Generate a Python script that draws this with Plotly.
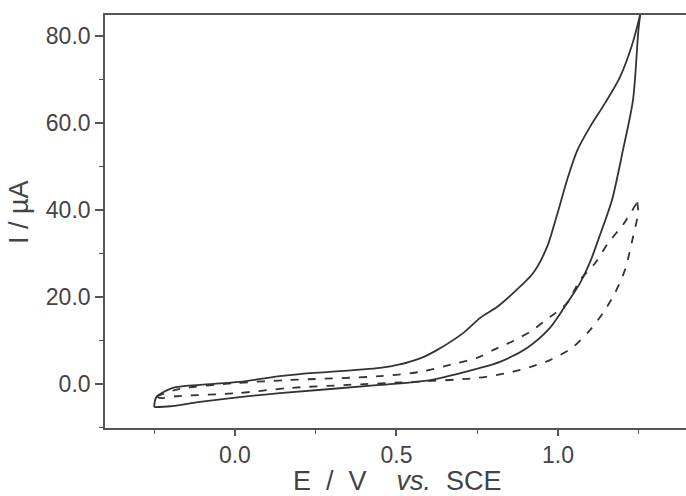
import plotly.graph_objects as go

# Solid CV: outer (upper) branch, -0.25 V -> 1.25 V
e_solid_up = [-0.250, -0.243, -0.192, -0.108, 0.015, 0.139, 0.201, 0.449, 0.510, 0.573, 0.625,
              0.706, 0.759, 0.811, 0.861, 0.923, 0.966, 0.997, 1.028, 1.059, 1.099,
              1.146, 1.192, 1.229, 1.254]
i_solid_up = [-5.3, -3.0, -0.9, -0.2, 0.5, 1.8, 2.3, 3.7, 4.5, 5.9, 7.8,
              11.7, 15.2, 17.7, 20.9, 25.5, 31.5, 38.9, 46.9, 53.6, 59.1,
              64.6, 70.6, 77.9, 84.8]
# Solid CV: inner (lower) branch, 1.25 V -> -0.25 V
e_solid_dn = [1.254, 1.248, 1.232, 1.201, 1.167, 1.130, 1.099, 1.068, 1.028, 0.975,
              0.904, 0.820, 0.759, 0.604, 0.449, 0.139, 0.015, -0.108, -0.201, -0.250]
i_solid_dn = [84.8, 80.7, 65.3, 53.8, 42.3, 34.3, 28.0, 23.2, 18.6, 12.9,
              8.3, 5.1, 3.7, 0.9, -0.2, -2.1, -3.0, -4.1, -5.1, -5.3]

# Dashed CV: upper branch, -0.25 V -> 1.25 V
e_dash_up = [-0.243, -0.170, 0.000, 0.161, 0.449, 0.573, 0.687, 0.749, 0.799, 0.861,
             0.913, 0.975, 1.028, 1.068, 1.115, 1.155, 1.201, 1.245]
i_dash_up = [-2.8, -1.1, 0.2, 0.9, 1.8, 2.8, 4.8, 6.0, 7.8, 9.9,
             12.0, 15.4, 18.6, 23.9, 27.8, 32.4, 36.6, 41.8]
# Dashed CV: lower branch, 1.25 V -> -0.25 V
e_dash_dn = [1.245, 1.248, 1.232, 1.207, 1.176, 1.139, 1.099, 1.043, 0.975, 0.913,
             0.858, 0.749, 0.551, 0.347, 0.170, 0.006, -0.180, -0.232, -0.243]
i_dash_dn = [41.8, 39.5, 33.8, 26.2, 20.9, 16.3, 12.4, 8.3, 5.5, 3.9,
             2.8, 1.4, 0.5, -0.2, -0.9, -2.1, -2.8, -3.2, -2.8]

LC = "#333333"
fig = go.Figure()
for xs, ys, dash in [(e_solid_up, i_solid_up, "solid"), (e_solid_dn, i_solid_dn, "solid"),
                     (e_dash_up, i_dash_up, "8px,9px"), (e_dash_dn, i_dash_dn, "8px,9px")]:
    fig.add_trace(go.Scatter(x=xs, y=ys, mode="lines",
                             line=dict(color=LC, width=1.8, dash=dash, shape="spline", smoothing=0.8),
                             showlegend=False, hoverinfo="skip"))

font = dict(family="Arial, Liberation Sans, sans-serif", color="#444444")
fig.update_layout(
    width=686, height=496,
    margin=dict(l=105, r=0, t=15, b=68),
    paper_bgcolor="white", plot_bgcolor="white",
    font=dict(**font, size=23),
    xaxis=dict(range=[-0.402, 1.396], showgrid=False, zeroline=False,
               showline=True, linecolor="#555555", linewidth=1.6, mirror=True,
               ticks="outside", ticklen=6, tickwidth=1.5, tickcolor="#555555",
               tick0=0, dtick=0.5, tickformat=".1f",
               minor=dict(dtick=0.25, tick0=0, ticks="outside", ticklen=4, tickwidth=1.2,
                          tickcolor="#555555", showgrid=False),
               tickfont=dict(size=23)),
    yaxis=dict(range=[-10.1, 84.8], showgrid=False, zeroline=False,
               showline=True, linecolor="#555555", linewidth=1.6,
               ticks="outside", ticklen=8, tickwidth=1.5, tickcolor="#555555",
               tick0=0, dtick=20, tickformat=".1f",
               minor=dict(dtick=10, tick0=0, ticks="outside", ticklen=4, tickwidth=1.2,
                          tickcolor="#555555", showgrid=False),
               tickfont=dict(size=23)),
    annotations=[
        dict(text="E\u00a0\u00a0/\u00a0\u00a0V\u00a0\u00a0\u00a0\u00a0<i>vs.</i>\u00a0\u00a0SCE",
             xref="paper", yref="paper", x=0.5026, y=-0.1283, xanchor="center", yanchor="middle",
             showarrow=False, font=dict(**font, size=27)),
        dict(text="I\u00a0/\u00a0\u00b5A", xref="paper", yref="paper", x=-0.148, y=0.523,
             xanchor="center", yanchor="middle", textangle=-90,
             showarrow=False, font=dict(**font, size=27)),
    ],
)
fig.write_html("out.html")
